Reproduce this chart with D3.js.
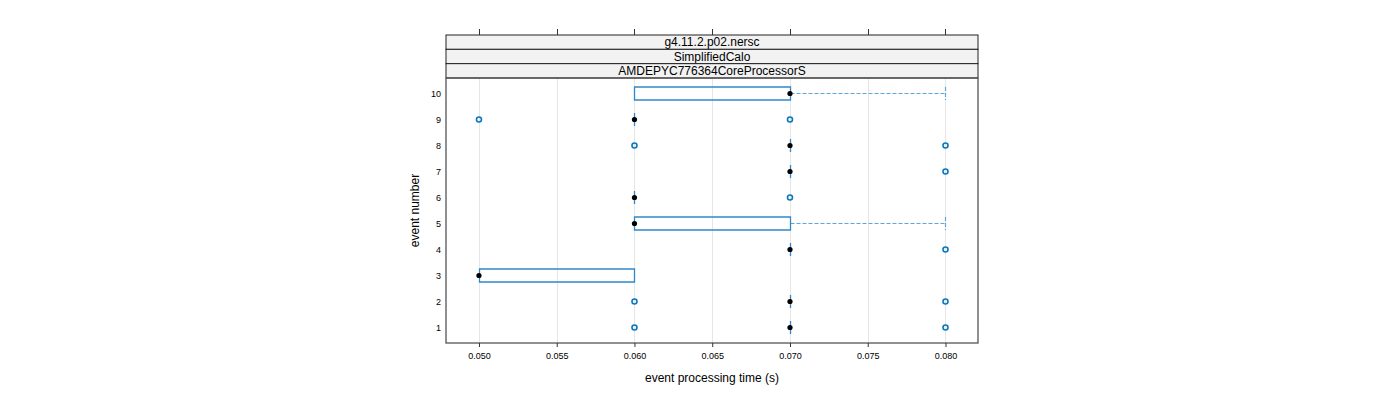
<!DOCTYPE html>
<html><head><meta charset="utf-8">
<script src="https://cdn.jsdelivr.net/npm/d3@7"></script>
<style>body{margin:0;background:#fff}svg{display:block}</style>
</head><body><svg id="c" width="1400" height="400"></svg>
<script>
const events = [1,2,3,4,5,6,7,8,9,10];
const medians = [0.07,0.07,0.05,0.07,0.06,0.06,0.07,0.07,0.06,0.07];
const lowerQ  = [0.07,0.07,0.05,0.07,0.06,0.06,0.07,0.07,0.06,0.06];
const upperQ  = [0.07,0.07,0.06,0.07,0.07,0.06,0.07,0.07,0.06,0.07];
const lowerW  = [0.07,0.07,0.05,0.07,0.06,0.06,0.07,0.07,0.06,0.06];
const upperW  = [0.07,0.07,0.06,0.07,0.08,0.06,0.07,0.07,0.06,0.08];
const outliers = [[0.06,0.08],[0.06,0.08],[],[0.08],[],[0.07],[0.08],[0.06,0.08],[0.05,0.07],[]];
const xTicks = [0.050,0.055,0.060,0.065,0.070,0.075,0.080];
const strips = ["g4.11.2.p02.nersc","SimplifiedCalo","AMDEPYC776364CoreProcessorS"];
const xTitle = "event processing time (s)";
const yTitle = "event number";

const svg = d3.select("#c");
const font = "Liberation Sans, Arial, sans-serif";
const L=446, R=978, T=78, B=343;
const x = d3.scaleLinear().domain([0.04788,0.08209]).range([L,R]);
const y = d3.scaleLinear().domain([0.4,10.6]).range([B,T]);
const px = v => Math.round(x(v)) + 0.5;
const py = v => Math.floor(y(v)) + 0.5;
const boxH = 13;
const boxCol = "#2f88cc", dashCol = "#5ea6dc", ptCol = "#0b78be";

// grid
svg.append("g").selectAll("line").data(xTicks).join("line")
  .attr("x1",d=>px(d)).attr("x2",d=>px(d)).attr("y1",T).attr("y2",B)
  .attr("stroke","#e6e6e6").attr("stroke-width",1);

// strips
const sh = (T-35)/3;
strips.forEach((s,i)=>{
  const y0 = 35 + i*sh;
  svg.append("rect").attr("x",L).attr("y",y0).attr("width",R-L).attr("height",sh)
    .attr("fill","#f2f2f2").attr("stroke","#222").attr("stroke-width",1);
  svg.append("text").attr("x",(L+R)/2).attr("y",y0+sh/2+4.3).attr("text-anchor","middle")
    .attr("font-family",font).attr("font-size",12).attr("fill","#000").text(s);
});

// panel frame
svg.append("rect").attr("x",L).attr("y",T).attr("width",R-L).attr("height",B-T)
  .attr("fill","none").attr("stroke","#555").attr("stroke-width",1.3);

// top ticks
svg.append("g").selectAll("line").data(xTicks).join("line")
  .attr("x1",d=>px(d)).attr("x2",d=>px(d)).attr("y1",29).attr("y2",35)
  .attr("stroke","#333");
// bottom axis
const xAxis = d3.axisBottom(x).tickValues(xTicks).tickSize(4).tickPadding(6).tickFormat(d3.format(".3f"));
const gx = svg.append("g").attr("transform",`translate(0,${B})`).call(xAxis);
gx.select(".domain").remove();
gx.selectAll("line").attr("stroke","#333");
gx.selectAll("text").attr("font-family",font).attr("font-size",9).attr("fill","#000");

// left axis labels
const yAxis = d3.axisLeft(y).tickValues(events).tickSize(0).tickPadding(5).tickFormat(d3.format("d"));
const gy = svg.append("g").attr("transform",`translate(${L},0)`).call(yAxis);
gy.select(".domain").remove();
gy.selectAll("text").attr("font-family",font).attr("font-size",9).attr("fill","#000");

// boxes
const g = svg.append("g");
events.forEach((e,i)=>{
  const cy = py(e);
  const top = cy - 6.5, bot = cy + 6.5;
  if (upperW[i] > upperQ[i]) {
    g.append("line").attr("x1",px(upperQ[i])).attr("x2",px(upperW[i])).attr("y1",cy).attr("y2",cy)
      .attr("stroke",dashCol).attr("stroke-dasharray","4,2").attr("stroke-width",1.2);
    g.append("line").attr("x1",px(upperW[i])).attr("x2",px(upperW[i])).attr("y1",top).attr("y2",bot)
      .attr("stroke",dashCol).attr("stroke-dasharray","4,2").attr("stroke-width",1.2);
  }
  if (lowerW[i] < lowerQ[i]) {
    g.append("line").attr("x1",px(lowerW[i])).attr("x2",px(lowerQ[i])).attr("y1",cy).attr("y2",cy)
      .attr("stroke",dashCol).attr("stroke-dasharray","4,2").attr("stroke-width",1.2);
    g.append("line").attr("x1",px(lowerW[i])).attr("x2",px(lowerW[i])).attr("y1",top).attr("y2",bot)
      .attr("stroke",dashCol).attr("stroke-dasharray","4,2").attr("stroke-width",1.2);
  }
  const x0 = px(lowerQ[i]), x1 = px(upperQ[i]);
  g.append("path").attr("d",`M${x0},${top}H${x1}V${bot}H${x0}Z`)
    .attr("fill","none").attr("stroke",boxCol).attr("stroke-width",1.3);
  g.append("circle").attr("cx",x(medians[i])).attr("cy",cy).attr("r",2.6).attr("fill","#000");
  outliers[i].forEach(o=>{
    g.append("circle").attr("cx",x(o)).attr("cy",cy).attr("r",2.5)
      .attr("fill","none").attr("stroke",ptCol).attr("stroke-width",1.6);
  });
});

// titles
svg.append("text").attr("x",(L+R)/2).attr("y",382).attr("text-anchor","middle")
  .attr("font-family",font).attr("font-size",12).text(xTitle);
svg.append("text").attr("transform",`translate(419,${(T+B)/2}) rotate(-90)`).attr("text-anchor","middle")
  .attr("font-family",font).attr("font-size",12).text(yTitle);
</script></body></html>
